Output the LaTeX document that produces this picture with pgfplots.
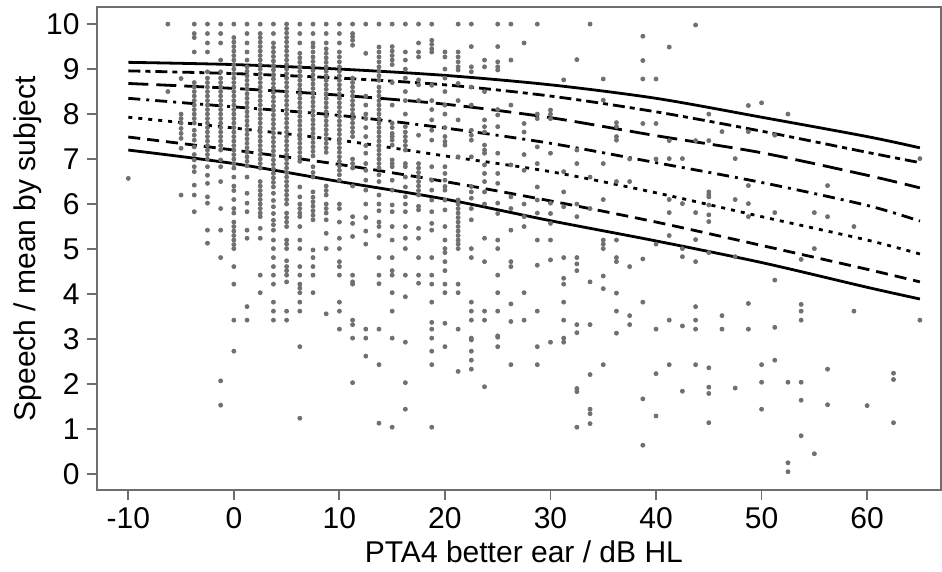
\documentclass[border=0pt]{standalone}
\usepackage{fontspec}
\setmainfont{Liberation Sans}
\usepackage{pgfplots}
\pgfplotsset{compat=1.18}
\definecolor{axgray}{RGB}{110,110,110}
\definecolor{dotgray}{RGB}{112,112,112}
\begin{document}
\begin{tikzpicture}
\begin{axis}[
  scale only axis, width=422pt, height=241.5pt,
  xmin=-13, xmax=67, ymin=-0.36, ymax=10.38,
  xtick={-10,0,10,20,30,40,50,60},
  xticklabels={-10,0,10,20,30,40,50,60},
  ytick={0,1,2,3,4,5,6,7,8,9,10},
  xtick pos=lower, ytick pos=left,
  tick align=outside, major tick length=5pt,
  tick style={axgray, line width=0.9pt},
  axis line style={axgray, line width=1pt},
  /pgf/number format/assume math mode=true,
  ticklabel style={font=\fontsize{15}{18}\selectfont},
  label style={font=\fontsize{15}{18}\selectfont},
  xlabel={PTA4 better ear / dB HL},
  ylabel={Speech / mean by subject},
  xlabel style={at={(axis description cs:0.506,-0.128)}, anchor=center},
  ylabel style={at={(axis description cs:-0.0812,0.5)}, anchor=center},
]
% individual subjects
\addplot[only marks, mark=*, mark size=1pt, dotgray, mark options={draw=none, fill=dotgray}] coordinates {
(-10,6.57)
(-6.25,10)(-6.25,8.5)
(-5,8.79)(-5,8.0)(-5,7.9)(-5,7.8)(-5,7.68)(-5,7.57)(-5,7.46)(-5,7.24)(-5,6.2)
(-3.75,10)(-3.75,9.79)(-3.75,9.7)(-3.75,9.38)(-3.75,8.7)(-3.75,8.6)(-3.75,8.5)(-3.75,8.4)(-3.75,8.3)(-3.75,8.2)(-3.75,8.1)(-3.75,8.0)(-3.75,7.9)(-3.75,7.8)(-3.75,7.64)(-3.75,7.53)(-3.75,7.42)(-3.75,7.27)(-3.75,7.1)(-3.75,6.98)(-3.75,6.83)(-3.75,6.72)(-3.75,6.42)(-3.75,6.2)(-3.75,5.83)
(-2.5,10)(-2.5,9.79)(-2.5,9.58)(-2.5,9.38)(-2.5,8.94)(-2.5,8.8)(-2.5,8.7)(-2.5,8.6)(-2.5,8.5)(-2.5,8.4)(-2.5,8.3)(-2.5,8.2)(-2.5,8.1)(-2.5,8.0)(-2.5,7.9)(-2.5,7.8)(-2.5,7.7)(-2.5,7.6)(-2.5,7.5)(-2.5,7.4)(-2.5,7.3)(-2.5,7.2)(-2.5,7.1)(-2.5,7.0)(-2.5,6.83)(-2.5,6.64)(-2.5,6.46)(-2.5,6.16)(-2.5,6.02)(-2.5,5.42)(-2.5,5.13)
(-1.25,10)(-1.25,9.79)(-1.25,9.58)(-1.25,9.2)(-1.25,8.94)(-1.25,8.8)(-1.25,8.7)(-1.25,8.6)(-1.25,8.5)(-1.25,8.4)(-1.25,8.3)(-1.25,8.2)(-1.25,8.1)(-1.25,8.0)(-1.25,7.9)(-1.25,7.8)(-1.25,7.7)(-1.25,7.6)(-1.25,7.5)(-1.25,7.4)(-1.25,7.3)(-1.25,7.2)(-1.25,6.98)(-1.25,6.83)(-1.25,6.5)(-1.25,5.9)(-1.25,5.42)(-1.25,4.81)(-1.25,2.07)(-1.25,1.53)
(0,10)(0,9.7)(0,9.6)(0,9.5)(0,9.4)(0,9.3)(0,9.2)(0,9.1)(0,9.0)(0,8.9)(0,8.8)(0,8.7)(0,8.6)(0,8.5)(0,8.4)(0,8.3)(0,8.2)(0,8.1)(0,8.0)(0,7.9)(0,7.8)(0,7.7)(0,7.6)(0,7.5)(0,7.4)(0,7.3)(0,7.2)(0,7.1)(0,7.0)(0,6.9)(0,6.8)(0,6.6)(0,6.4)(0,6.3)(0,6.1)(0,5.9)(0,5.8)(0,5.6)(0,5.5)(0,5.4)(0,5.3)(0,5.2)(0,5.1)(0,5.01)(0,4.61)(0,4.22)(0,3.42)(0,2.73)
(1.25,10)(1.25,9.79)(1.25,9.58)(1.25,9.38)(1.25,9.2)(1.25,9.05)(1.25,8.95)(1.25,8.85)(1.25,8.75)(1.25,8.65)(1.25,8.55)(1.25,8.45)(1.25,8.35)(1.25,8.25)(1.25,8.15)(1.25,8.05)(1.25,7.95)(1.25,7.85)(1.25,7.75)(1.25,7.65)(1.25,7.55)(1.25,7.45)(1.25,7.35)(1.25,7.25)(1.25,7.15)(1.25,7.05)(1.25,6.95)(1.25,6.85)(1.25,6.6)(1.25,6.24)(1.25,6.02)(1.25,5.83)(1.25,5.42)(1.25,5.24)(1.25,3.72)(1.25,3.42)
(2.5,10)(2.5,9.79)(2.5,9.7)(2.5,9.6)(2.5,9.5)(2.5,9.4)(2.5,9.3)(2.5,9.2)(2.5,9.1)(2.5,9.0)(2.5,8.9)(2.5,8.8)(2.5,8.7)(2.5,8.6)(2.5,8.5)(2.5,8.4)(2.5,8.3)(2.5,8.2)(2.5,8.1)(2.5,8.0)(2.5,7.9)(2.5,7.8)(2.5,7.7)(2.5,7.6)(2.5,7.5)(2.5,7.4)(2.5,7.3)(2.5,7.2)(2.5,7.1)(2.5,7.0)(2.5,6.9)(2.5,6.8)(2.5,6.5)(2.5,6.4)(2.5,6.3)(2.5,6.2)(2.5,6.1)(2.5,6.0)(2.5,5.9)(2.5,5.8)(2.5,5.72)(2.5,5.46)(2.5,5.24)(2.5,4.42)(2.5,4.03)
(3.75,10)(3.75,9.79)(3.75,9.58)(3.75,9.48)(3.75,9.38)(3.75,9.28)(3.75,9.18)(3.75,9.08)(3.75,8.98)(3.75,8.88)(3.75,8.78)(3.75,8.68)(3.75,8.58)(3.75,8.48)(3.75,8.38)(3.75,8.28)(3.75,8.18)(3.75,8.08)(3.75,7.98)(3.75,7.88)(3.75,7.78)(3.75,7.68)(3.75,7.58)(3.75,7.48)(3.75,7.38)(3.75,7.28)(3.75,7.18)(3.75,7.08)(3.75,6.98)(3.75,6.88)(3.75,6.78)(3.75,6.68)(3.75,6.58)(3.75,6.48)(3.75,6.38)(3.75,6.24)(3.75,6.08)(3.75,5.94)(3.75,5.79)(3.75,5.64)(3.75,5.54)(3.75,5.42)(3.75,5.2)(3.75,5.01)(3.75,4.81)(3.75,4.61)(3.75,4.42)(3.75,4.22)(3.75,3.82)(3.75,3.62)(3.75,3.42)
(5,10)(5,9.9)(5,9.8)(5,9.7)(5,9.6)(5,9.5)(5,9.4)(5,9.3)(5,9.2)(5,9.1)(5,9.0)(5,8.9)(5,8.8)(5,8.7)(5,8.6)(5,8.5)(5,8.4)(5,8.3)(5,8.2)(5,8.1)(5,8.0)(5,7.9)(5,7.8)(5,7.7)(5,7.6)(5,7.5)(5,7.4)(5,7.3)(5,7.2)(5,7.1)(5,7.0)(5,6.9)(5,6.8)(5,6.7)(5,6.6)(5,6.5)(5,6.4)(5,6.3)(5,6.2)(5,6.1)(5,6.0)(5,5.8)(5,5.7)(5,5.6)(5,5.5)(5,5.2)(5,5.11)(5,5.01)(5,4.74)(5,4.61)(5,4.52)(5,4.42)(5,4.27)(5,3.62)(5,3.42)
(6.25,10)(6.25,9.79)(6.25,9.58)(6.25,9.35)(6.25,9.25)(6.25,9.15)(6.25,9.05)(6.25,8.95)(6.25,8.85)(6.25,8.75)(6.25,8.65)(6.25,8.55)(6.25,8.45)(6.25,8.35)(6.25,8.25)(6.25,8.15)(6.25,8.05)(6.25,7.95)(6.25,7.85)(6.25,7.75)(6.25,7.65)(6.25,7.55)(6.25,7.45)(6.25,7.35)(6.25,7.25)(6.25,7.15)(6.25,7.05)(6.25,6.95)(6.25,6.38)(6.25,6.16)(6.25,6.0)(6.25,5.9)(6.25,5.8)(6.25,5.72)(6.25,5.5)(6.25,5.2)(6.25,5.01)(6.25,4.61)(6.25,4.42)(6.25,4.22)(6.25,4.13)(6.25,4.03)(6.25,3.82)(6.25,3.62)(6.25,2.83)(6.25,1.24)
(7.5,10)(7.5,9.79)(7.5,9.58)(7.5,9.49)(7.5,9.38)(7.5,9.27)(7.5,9.17)(7.5,9.07)(7.5,8.97)(7.5,8.87)(7.5,8.77)(7.5,8.67)(7.5,8.57)(7.5,8.47)(7.5,8.37)(7.5,8.27)(7.5,8.17)(7.5,8.07)(7.5,7.97)(7.5,7.87)(7.5,7.77)(7.5,7.67)(7.5,7.57)(7.5,7.47)(7.5,7.37)(7.5,7.27)(7.5,7.17)(7.5,7.07)(7.5,6.83)(7.5,6.7)(7.5,6.6)(7.5,6.27)(7.5,6.15)(7.5,6.05)(7.5,5.95)(7.5,5.85)(7.5,5.75)(7.5,5.65)(7.5,4.98)(7.5,4.81)(7.5,4.61)(7.5,4.42)(7.5,4.03)
(8.75,10)(8.75,9.79)(8.75,9.58)(8.75,9.45)(8.75,9.35)(8.75,9.25)(8.75,9.15)(8.75,9.05)(8.75,8.95)(8.75,8.85)(8.75,8.75)(8.75,8.65)(8.75,8.55)(8.75,8.45)(8.75,8.35)(8.75,8.25)(8.75,8.15)(8.75,8.05)(8.75,7.95)(8.75,7.85)(8.75,7.75)(8.75,7.65)(8.75,7.55)(8.75,7.45)(8.75,7.35)(8.75,7.25)(8.75,7.15)(8.75,6.4)(8.75,6.3)(8.75,6.2)(8.75,6.0)(8.75,5.9)(8.75,5.8)(8.75,5.65)(8.75,5.35)(8.75,5.01)(8.75,3.56)
(10,10)(10,9.79)(10,9.58)(10,9.38)(10,9.27)(10,9.16)(10,9.05)(10,8.95)(10,8.85)(10,8.75)(10,8.65)(10,8.55)(10,8.45)(10,8.35)(10,8.25)(10,8.15)(10,8.05)(10,7.95)(10,7.85)(10,7.75)(10,7.65)(10,7.55)(10,7.45)(10,7.35)(10,7.25)(10,7.15)(10,7.05)(10,6.95)(10,6.85)(10,6.75)(10,6.65)(10,6.53)(10,6.0)(10,5.9)(10,5.6)(10,5.24)(10,5.01)(10,4.72)(10,4.61)(10,4.42)(10,3.82)(10,3.62)(10,3.22)
(11.25,10)(11.25,9.79)(11.25,9.72)(11.25,9.64)(11.25,9.53)(11.25,8.8)(11.25,8.7)(11.25,8.6)(11.25,8.5)(11.25,8.4)(11.25,8.3)(11.25,8.2)(11.25,8.1)(11.25,8.0)(11.25,7.9)(11.25,7.8)(11.25,7.7)(11.25,7.6)(11.25,7.5)(11.25,7.0)(11.25,6.9)(11.25,6.8)(11.25,6.4)(11.25,5.72)(11.25,5.57)(11.25,5.28)(11.25,4.42)(11.25,4.27)(11.25,4.22)(11.25,3.42)(11.25,3.32)(11.25,3.02)(11.25,2.03)
(12.5,10)(12.5,9.35)(12.5,8.4)(12.5,8.2)(12.5,8.0)(12.5,7.9)(12.5,7.7)(12.5,7.5)(12.5,7.3)(12.5,7.13)(12.5,6.9)(12.5,6.75)(12.5,6.53)(12.5,6.31)(12.5,6.0)(12.5,5.7)(12.5,5.4)(12.5,5.11)(12.5,3.22)(12.5,3.02)(12.5,2.62)
(13.75,10)(13.75,9.49)(13.75,9.38)(13.75,9.27)(13.75,9.16)(13.75,9.05)(13.75,8.95)(13.75,8.85)(13.75,8.75)(13.75,8.6)(13.75,8.5)(13.75,8.4)(13.75,8.3)(13.75,8.2)(13.75,8.1)(13.75,8.0)(13.75,7.9)(13.75,7.8)(13.75,7.7)(13.75,7.6)(13.75,7.5)(13.75,7.4)(13.75,7.3)(13.75,7.2)(13.75,7.1)(13.75,7.0)(13.75,6.9)(13.75,6.8)(13.75,6.65)(13.75,6.5)(13.75,6.2)(13.75,6.0)(13.75,5.85)(13.75,5.6)(13.75,5.5)(13.75,5.3)(13.75,4.81)(13.75,4.42)(13.75,4.23)(13.75,3.22)(13.75,2.43)(13.75,1.13)
(15,10)(15,9.5)(15,9.4)(15,9.3)(15,9.2)(15,9.1)(15,8.7)(15,8.2)(15,7.8)(15,7.7)(15,7.57)(15,7.5)(15,7.42)(15,7.31)(15,6.98)(15,6.9)(15,6.83)(15,6.53)(15,6.31)(15,5.98)(15,5.83)(15,5.5)(15,5.2)(15,4.81)(15,4.52)(15,4.42)(15,4.03)(15,3.62)(15,3.02)(15,1.04)
(16.25,10)(16.25,9.38)(16.25,9.2)(16.25,9.0)(16.25,8.8)(16.25,8.5)(16.25,8.3)(16.25,8.0)(16.25,7.72)(16.25,7.6)(16.25,7.5)(16.25,7.4)(16.25,7.3)(16.25,7.2)(16.25,6.9)(16.25,6.83)(16.25,6.6)(16.25,6.38)(16.25,6.16)(16.25,6.0)(16.25,5.83)(16.25,5.5)(16.25,5.24)(16.25,5.01)(16.25,4.42)(16.25,3.94)(16.25,2.93)(16.25,2.03)(16.25,1.44)
(17.5,10)(17.5,9.58)(17.5,9.38)(17.5,9.27)(17.5,8.76)(17.5,8.65)(17.5,8.3)(17.5,7.53)(17.5,6.9)(17.5,6.8)(17.5,6.7)(17.5,6.6)(17.5,6.5)(17.5,6.4)(17.5,6.3)(17.5,6.2)(17.5,5.95)(17.5,5.87)(17.5,5.46)(17.5,5.24)(17.5,4.81)(17.5,4.42)(17.5,4.24)
(18.75,10)(18.75,9.64)(18.75,9.55)(18.75,9.45)(18.75,9.38)(18.75,8.64)(18.75,8.3)(18.75,8.1)(18.75,7.87)(18.75,7.64)(18.75,7.42)(18.75,6.83)(18.75,6.53)(18.75,6.31)(18.75,6.09)(18.75,5.83)(18.75,5.57)(18.75,5.42)(18.75,4.81)(18.75,4.42)(18.75,4.22)(18.75,3.82)(18.75,3.37)(18.75,3.22)(18.75,3.02)(18.75,2.73)(18.75,2.43)(18.75,1.04)
(20,9.38)(20,9.27)(20,9.0)(20,8.8)(20,8.5)(20,8.2)(20,8.0)(20,7.7)(20,7.5)(20,7.39)(20,7.31)(20,6.83)(20,6.68)(20,6.53)(20,6.39)(20,6.31)(20,6.09)(20,5.87)(20,5.5)(20,5.2)(20,5.01)(20,4.92)(20,4.72)(20,4.52)(20,4.22)(20,4.03)(20,3.35)(20,2.83)
(21.25,10)(21.25,9.38)(21.25,9.27)(21.25,9.16)(21.25,9.05)(21.25,8.98)(21.25,8.68)(21.25,8.3)(21.25,7.87)(21.25,7.05)(21.25,6.09)(21.25,6.0)(21.25,5.9)(21.25,5.8)(21.25,5.7)(21.25,5.6)(21.25,5.5)(21.25,5.4)(21.25,5.3)(21.25,5.2)(21.25,5.11)(21.25,5.01)(21.25,4.22)(21.25,4.03)(21.25,3.22)(21.25,2.28)
(22.5,10)(22.5,9.5)(22.5,9.05)(22.5,8.94)(22.5,8.6)(22.5,8.2)(22.5,7.64)(22.5,7.53)(22.5,7.42)(22.5,7.05)(22.5,6.39)(22.5,6.27)(22.5,6.13)(22.5,5.9)(22.5,5.65)(22.5,5.01)(22.5,4.81)(22.5,3.82)(22.5,3.62)(22.5,3.42)(22.5,3.02)(22.5,2.98)(22.5,2.73)(22.5,2.53)(22.5,2.33)
(23.75,9.2)(23.75,9.05)(23.75,8.5)(23.75,7.87)(23.75,7.72)(23.75,7.6)(23.75,7.31)(23.75,7.2)(23.75,7.13)(23.75,6.87)(23.75,6.68)(23.75,6.5)(23.75,6.27)(23.75,6.0)(23.75,5.24)(23.75,4.72)(23.75,3.62)(23.75,3.42)(23.75,1.94)
(25,10)(25,9.5)(25,9.16)(25,9.05)(25,8.98)(25,8.1)(25,7.98)(25,7.72)(25,7.13)(25,6.68)(25,6.46)(25,6.02)(25,5.79)(25,5.2)(25,5.01)(25,4.42)(25,4.03)(25,3.62)(25,3.07)(25,3.04)(25,2.83)
(26.25,10)(26.25,9.2)(26.25,8.2)(26.25,6.87)(26.25,6.16)(26.25,5.9)(26.25,5.42)(26.25,4.72)(26.25,4.61)(26.25,3.78)(26.25,3.39)(26.25,2.43)
(27.5,9.58)(27.5,7.79)(27.5,7.6)(27.5,7.1)(27.5,6.75)(27.5,6.0)(27.5,5.72)(27.5,5.5)(27.5,4.03)(27.5,3.42)
(28.75,10)(28.75,8.0)(28.75,7.9)(28.75,7.27)(28.75,6.9)(28.75,6.38)(28.75,6.09)(28.75,5.8)(28.75,5.2)(28.75,4.64)(28.75,3.62)(28.75,2.83)(28.75,2.43)
(30,8.09)(30,8.0)(30,7.9)(30,7.13)(30,6.02)(30,5.79)(30,5.57)(30,5.2)(30,4.76)(30,2.93)
(31.25,8.76)(31.25,6.72)(31.25,6.27)(31.25,5.94)(31.25,4.81)(31.25,4.35)(31.25,4.22)(31.25,3.82)(31.25,3.42)(31.25,3.02)(31.25,2.93)
(32.5,9.21)(32.5,7.2)(32.5,6.9)(32.5,6.0)(32.5,5.72)(32.5,4.81)(32.5,4.67)(32.5,4.52)(32.5,3.32)(32.5,3.14)(32.5,1.9)(32.5,1.83)(32.5,1.04)
(33.75,10)(33.75,6.6)(33.75,5.9)(33.75,4.27)(33.75,3.32)(33.75,2.21)(33.75,1.44)(33.75,1.34)(33.75,1.12)
(35,8.78)(35,8.31)(35,6.9)(35,6.1)(35,5.2)(35,5.11)(35,5.01)(35,4.4)(35,4.12)(35,2.43)
(36.25,7.81)(36.25,7.72)(36.25,7.5)(36.25,7.42)(36.25,6.5)(36.25,5.2)(36.25,4.81)(36.25,4.72)(36.25,4.02)(36.25,3.62)(36.25,3.13)
(37.5,7.0)(37.5,6.5)(37.5,4.61)(37.5,3.52)(37.5,3.32)
(38.75,9.73)(38.75,9.19)(38.75,8.78)(38.75,7.79)(38.75,4.78)(38.75,3.82)(38.75,1.67)(38.75,0.64)
(40,8.78)(40,7.79)(40,7.0)(40,5.11)(40,3.22)(40,2.23)(40,1.29)
(41.25,9.49)(41.25,7.41)(41.25,7.01)(41.25,6.1)(41.25,5.81)(41.25,5.3)(41.25,3.42)(41.25,2.43)
(42.5,7.01)(42.5,6.01)(42.5,5.01)(42.5,4.83)(42.5,3.29)(42.5,1.84)
(43.75,9.98)(43.75,7.41)(43.75,5.81)(43.75,5.21)(43.75,4.72)(43.75,3.72)(43.75,3.42)(43.75,3.22)(43.75,2.43)
(45,8.0)(45,7.41)(45,6.27)(45,6.21)(45,6.16)(45,5.98)(45,5.76)(45,5.61)(45,4.92)(45,2.36)(45,1.93)(45,1.79)(45,1.14)
(46.25,7.61)(46.25,3.52)(46.25,3.22)
(47.5,7.01)(47.5,6.1)(47.5,4.83)(47.5,1.91)
(48.75,8.19)(48.75,7.61)(48.75,6.41)(48.75,6.01)(48.75,5.72)(48.75,3.79)(48.75,3.22)
(50,8.25)(50,2.43)(50,2.04)(50,1.44)
(51.25,7.53)(51.25,5.81)(51.25,4.31)(51.25,3.26)(51.25,2.53)
(52.5,8.0)(52.5,2.04)(52.5,0.25)(52.5,0.05)
(53.75,4.77)(53.75,3.77)(53.75,3.62)(53.75,3.42)(53.75,2.04)(53.75,1.64)(53.75,0.85)
(55,5.81)(55,5.01)(55,0.45)
(56.25,6.41)(56.25,5.72)(56.25,2.33)(56.25,1.54)
(58.75,5.5)(58.75,3.62)
(60,1.52)
(62.5,2.24)(62.5,2.1)(62.5,1.14)
(65,7.01)(65,3.42)
};
% fitted quantile curves
\addplot[black, line width=1.4pt, smooth] coordinates {(-10,9.15)(0,9.1)(10,9.0)(20,8.86)(30,8.65)(40,8.35)(50,7.93)(60,7.5)(65,7.25)};
\addplot[black, line width=1.4pt, smooth, dash pattern=on 6pt off 2.5pt on 2.5pt off 2.5pt] coordinates {(-10,8.96)(0,8.9)(10,8.8)(20,8.65)(30,8.4)(40,8.05)(50,7.62)(60,7.15)(65,6.92)};
\addplot[black, line width=1.4pt, smooth, dash pattern=on 10pt off 4pt] coordinates {(-10,8.68)(0,8.57)(10,8.42)(20,8.22)(30,7.92)(40,7.52)(50,7.14)(60,6.64)(65,6.36)};
\addplot[black, line width=1.4pt, smooth, dash pattern=on 6pt off 3pt on 1.5pt off 3pt] coordinates {(-10,8.35)(0,8.16)(10,7.97)(20,7.69)(30,7.35)(40,6.92)(50,6.48)(60,5.97)(65,5.62)};
\addplot[black, line width=1.4pt, smooth, dash pattern=on 2pt off 3pt] coordinates {(-10,7.93)(0,7.69)(10,7.42)(20,7.07)(30,6.72)(40,6.25)(50,5.72)(60,5.2)(65,4.89)};
\addplot[black, line width=1.4pt, smooth, dash pattern=on 6pt off 3.5pt] coordinates {(-10,7.49)(0,7.2)(10,6.88)(20,6.5)(30,6.07)(40,5.6)(50,5.08)(60,4.55)(65,4.27)};
\addplot[black, line width=1.4pt, smooth] coordinates {(-10,7.2)(0,6.9)(10,6.5)(20,6.11)(30,5.63)(40,5.18)(50,4.7)(60,4.15)(65,3.89)};
\end{axis}
\path (current axis.south west) ++(-48.3pt,-40.5pt) coordinate (bl);
\path (current axis.north east) ++(0.5pt,3.5pt) coordinate (tr);
\pgfresetboundingbox
\path[use as bounding box] (bl) rectangle (tr);
\end{tikzpicture}
\end{document}
